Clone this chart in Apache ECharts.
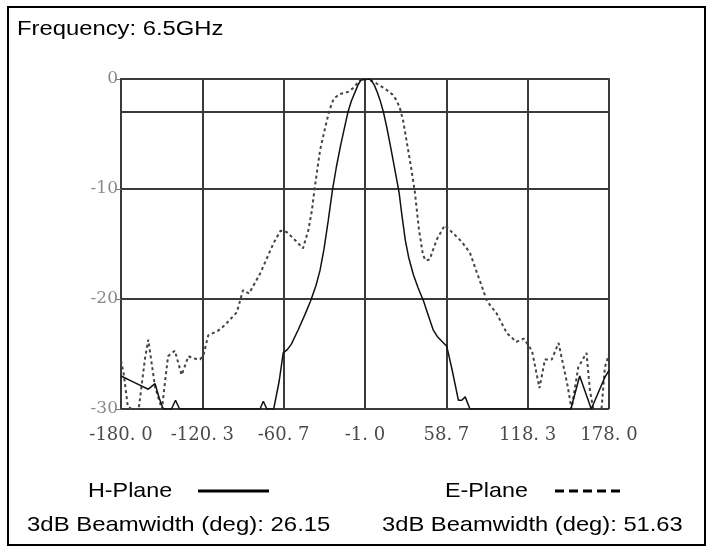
<!DOCTYPE html>
<html>
<head>
<meta charset="utf-8">
<script src="https://cdn.jsdelivr.net/npm/echarts@6/dist/echarts.min.js"></script>
<style>
html,body{margin:0;padding:0;background:#fff;}
#chart{width:712px;height:549px;}
</style>
</head>
<body>
<div id="chart"></div>
<script>
// ---- data ----
const xTicks = [-180, -120.3, -60.7, -1.0, 58.7, 118.3, 178];
const xTickLabels = ['-180. 0', '-120. 3', '-60. 7', '-1. 0', '58. 7', '118. 3', '178. 0'];
const yTicks = [0, -10, -20, -30];
const refLevel = -3;

const hPlane = [
  [-180,-27.0],[-170,-27.6],[-160,-28.2],[-155,-27.7],[-152,-29],[-149,-30],[-143,-30],[-140,-29.2],[-137,-30],
  [-78,-30],[-75.6,-29.3],[-73,-30],[-68,-30],[-64,-27.5],[-61,-24.9],[-58,-24.6],[-55,-24.1],[-50,-22.8],
  [-45,-21.4],[-41,-20.2],[-37,-18.8],[-34,-17.4],[-31,-15.4],[-28,-12.9],[-25,-10.2],[-22,-8],[-19,-6.1],
  [-16,-4.4],[-13.5,-3],[-11,-2],[-8,-1.1],[-6,-0.5],[-4,-0.1],[-3,0],[2.5,0],[4,-0.2],[6,-0.6],[8,-1.2],
  [10,-1.9],[12.5,-3],[15,-4.4],[18,-6.3],[21,-8.3],[24,-10.3],[26,-12.3],[28.5,-14.6],[31,-16.2],
  [34.5,-17.8],[38,-19],[42,-20.2],[46,-21.7],[49,-22.8],[52,-23.4],[55,-23.8],[59,-24.3],[63,-26.5],
  [67.5,-29.2],[70,-29.2],[72.5,-28.9],[76,-30],
  [122,-30],[150,-30],[156.5,-27],[165,-30],[175,-27.1],[178,-26.5]
];

const ePlane = [
  [-180,-25.6],[-178,-26.8],[-175,-29.8],[-172,-30],[-167,-30],[-162.5,-25.5],[-160,-23.7],[-155,-28],
  [-150,-30],[-145.5,-25.2],[-140.5,-24.7],[-135.5,-26.9],[-130.5,-25.2],[-127,-25.4],[-122,-25.5],
  [-119.5,-25.1],[-116,-23.3],[-109,-22.9],[-104,-22.4],[-95,-21.2],[-90.5,-19.2],[-86,-19.5],[-78,-17.7],
  [-68,-14.9],[-63,-13.8],[-58.5,-13.9],[-51,-14.8],[-46.5,-15.4],[-42.5,-13.7],[-40,-12],[-38,-10],
  [-34,-6.5],[-30,-4.3],[-27,-2.8],[-24,-1.8],[-20,-1.4],[-13,-1.15],[-9,-0.75],[-5,-0.1],[-3,0],[1,0],
  [6,-0.3],[10,-0.6],[15,-1],[19,-1.4],[22,-1.9],[24.5,-2.6],[27,-3.8],[30,-6],[32.5,-7.8],[35.5,-10.2],
  [38.5,-13.6],[41.5,-16],[43.5,-16.5],[46.5,-16.4],[49,-15.5],[52,-14.5],[57.5,-13.3],[63.5,-14],
  [70,-14.8],[76,-15.8],[80.5,-17.4],[84,-18.6],[88.5,-20.2],[95.5,-21.3],[103,-23.1],[110,-23.9],
  [115.5,-23.6],[121.5,-24.7],[127,-28.1],[131,-25.5],[136,-25.5],[141,-24],[147.5,-27.8],[150.5,-30],
  [155.5,-26.2],[161.5,-24.9],[164,-28.3],[166.5,-30],[172.5,-30],[175,-26.2],[178,-25]
];

const titleText = 'Frequency: 6.5GHz';
const hName = 'H-Plane';
const eName = 'E-Plane';
const hBeam = '3dB Beamwidth (deg): 26.15';
const eBeam = '3dB Beamwidth (deg): 51.63';

// ---- chart ----
const chart = echarts.init(document.getElementById('chart'), null, {renderer: 'canvas'});
const gridColor = '#3a3a3a';
const textFont = '"Liberation Sans", Arial, sans-serif';

function labelFor(v) {
  let best = 0, d = Infinity;
  xTicks.forEach((t, i) => { const dd = Math.abs(t - v); if (dd < d) { d = dd; best = i; } });
  return xTickLabels[best];
}

function txt(x, y, text, sx) {
  return {
    type: 'text', x: x, y: y, scaleX: sx,
    style: { x: 0, y: 0, text: text, font: '21px ' + textFont, fill: '#000', align: 'left', verticalAlign: 'middle' }
  };
}

chart.setOption({
  animation: false,
  backgroundColor: '#fff',
  grid: { left: 121, right: 103, top: 79, bottom: 140, containLabel: false },
  xAxis: {
    type: 'value', min: -180, max: 178,
    axisLine: { show: true, lineStyle: { color: gridColor, width: 2 } },
    axisTick: { show: true, length: 4, customValues: xTicks, lineStyle: { color: gridColor, width: 2 } },
    axisLabel: {
      customValues: xTicks, margin: 17,
      formatter: v => labelFor(v),
      color: '#4a4a4a', fontFamily: '"DejaVu Serif", "Liberation Serif", serif', fontSize: 18
    },
    splitLine: { show: true, lineStyle: { color: gridColor, width: 2 } }
  },
  yAxis: {
    type: 'value', min: -30, max: 0, interval: 10,
    axisLine: { show: true, onZero: false, lineStyle: { color: gridColor, width: 2 } },
    axisTick: { show: true, length: 5, lineStyle: { color: '#777', width: 1 } },
    axisLabel: {
      margin: 3, color: '#8a8a8a', fontFamily: '"DejaVu Serif", "Liberation Serif", serif', fontSize: 17
    },
    splitLine: { show: true, lineStyle: { color: gridColor, width: 2 } }
  },
  series: [
    {
      name: hName, type: 'line', data: hPlane, showSymbol: false, symbol: 'none', z: 5,
      lineStyle: { color: '#111', width: 1.5 },
      markLine: {
        silent: true, symbol: 'none', label: { show: false }, animation: false,
        lineStyle: { color: gridColor, width: 2, type: 'solid' },
        data: [{ yAxis: refLevel }]
      }
    },
    {
      name: eName, type: 'line', data: ePlane, showSymbol: false, symbol: 'none', z: 4,
      lineStyle: { color: '#444', width: 2, type: [3, 3] }
    }
  ],
  graphic: [
    { type: 'rect', shape: { x: 8, y: 7, width: 697, height: 538 }, style: { fill: null, stroke: '#000', lineWidth: 2 }, z: 100 },
    {
      type: 'text', x: 17, y: 29, scaleX: 1.19,
      style: { x: 0, y: 0, text: titleText, font: '20px ' + textFont, fill: '#000', align: 'left', verticalAlign: 'middle' }
    },
    txt(88, 491, hName, 1.11),
    { type: 'line', shape: { x1: 198, y1: 491, x2: 269, y2: 491 }, style: { stroke: '#000', lineWidth: 3 } },
    txt(445, 491, eName, 1.11),
    { type: 'line', shape: { x1: 555, y1: 491, x2: 622, y2: 491 }, style: { stroke: '#000', lineWidth: 3, lineDash: [9, 5] } },
    txt(27, 525, hBeam, 1.14),
    txt(382, 525, eBeam, 1.13)
  ]
});
</script>
</body>
</html>
